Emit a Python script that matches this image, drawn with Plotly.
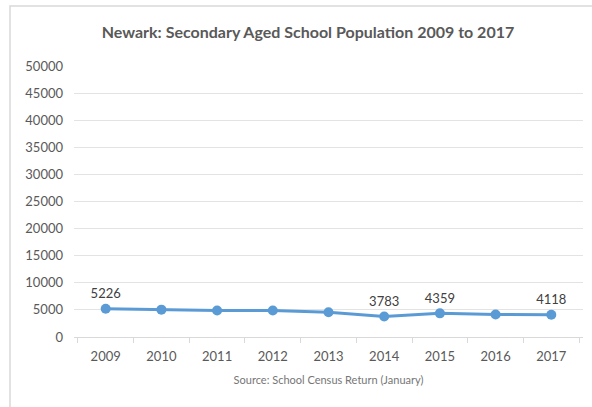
import plotly.graph_objects as go

# data
years = ["2009", "2010", "2011", "2012", "2013", "2014", "2015", "2016", "2017"]
pupils = [5226, 5050, 4880, 4900, 4560, 3783, 4359, 4140, 4118]
shown_labels = ["5226", "", "", "", "", "3783", "4359", "", "4118"]
y_ticks = list(range(0, 50001, 5000))

W, H = 592, 407
L, R, T, B = 74, 9, 66, 70
pw, ph = W - L - R, H - T - B

FONT = "Lato, Open Sans, sans-serif"

fig = go.Figure()
fig.add_trace(go.Scatter(
    x=years,
    y=pupils,
    mode="lines+markers+text",
    line=dict(color="#5B9BD5", width=3),
    marker=dict(color="#5B9BD5", size=10),
    text=shown_labels,
    textposition="top center",
    textfont=dict(family=FONT, size=13, color="#404040"),
    cliponaxis=False,
    hoverinfo="x+y",
))

# light grey chart frame (runs off the right and bottom edges)
fig.add_shape(
    type="rect", xref="paper", yref="paper",
    x0=(10 - L) / pw, x1=(W + 10 - L) / pw,
    y0=-(H + 10 - T - ph) / ph, y1=1 + (T - 6) / ph,
    line=dict(color="#D9D9D9", width=1.5), fillcolor="rgba(0,0,0,0)",
    layer="below",
)

fig.update_layout(
    width=W, height=H,
    margin=dict(l=L, r=R, t=T, b=B, autoexpand=False),
    paper_bgcolor="white", plot_bgcolor="white",
    showlegend=False,
    font=dict(family=FONT, size=13, color="#595959"),
    title=dict(
        text="<b>Newark: Secondary Aged School Population 2009 to 2017</b>",
        x=308 / W, xanchor="center", y=1 - 32 / H, yanchor="middle",
        font=dict(family=FONT, size=16, color="#595959"),
    ),
    xaxis=dict(
        type="category",
        tickson="boundaries",
        ticks="outside", ticklen=5, tickcolor="#D9D9D9",
        showline=True, linecolor="#D9D9D9", linewidth=1,
        showgrid=False,
        ticklabelstandoff=7,
        tickfont=dict(size=13, color="#595959"),
        title=dict(text="Source: School Census Return (January)",
                   font=dict(size=11, color="#767676"), standoff=13),
    ),
    yaxis=dict(
        range=[0, 50000],
        tickvals=y_ticks,
        tickformat="d",
        showgrid=True, gridcolor="#E3E3E3", gridwidth=1,
        zeroline=False,
        ticks="", ticklen=0,
        ticklabelstandoff=10,
        tickfont=dict(size=13, color="#595959"),
    ),
)

fig.write_html("out.html", config={"displayModeBar": False},
               post_script="document.body.style.margin='0';")
